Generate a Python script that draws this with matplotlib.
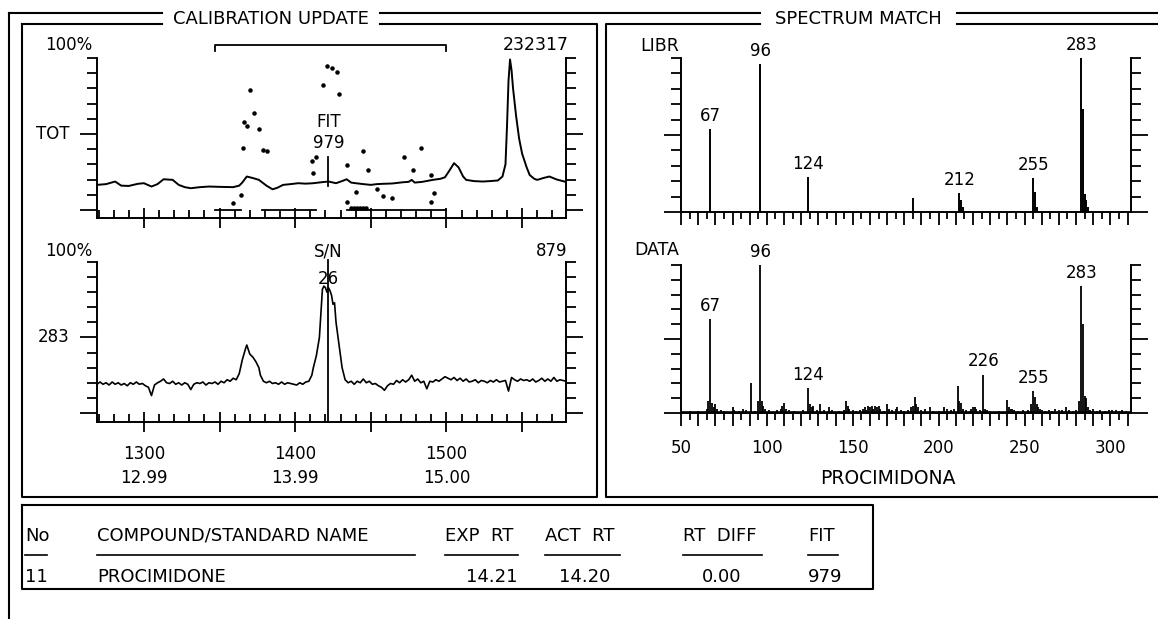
import matplotlib
matplotlib.use('Agg')
import matplotlib.pyplot as plt
from matplotlib.ticker import FixedLocator, MultipleLocator, FuncFormatter

W, H = 1158, 619
plt.rcParams['font.family'] = ['DejaVu Sans']

# --- TOT chromatogram (scan number, % of 232317) ---
tot_scan = [1269, 1275, 1281, 1285, 1290, 1296, 1300, 1305, 1309, 1313, 1319, 1323, 1327, 1331,
            1337, 1343, 1350, 1359, 1363, 1365, 1368, 1372, 1376, 1381, 1385, 1388, 1392, 1397,
            1402, 1407, 1412, 1417, 1422, 1427, 1431, 1434, 1437, 1440, 1445, 1450, 1454, 1458,
            1464, 1471, 1475, 1477, 1479, 1484, 1491, 1496, 1499, 1502, 1505, 1508, 1511, 1513,
            1518, 1524, 1529, 1534, 1537, 1539, 1540, 1541, 1542, 1543, 1544, 1546, 1548, 1550,
            1553, 1555, 1558, 1560, 1564, 1568, 1573, 1578]
tot_val = [16.5, 17, 18.7, 16, 15.8, 17.2, 17.6, 15.4, 17, 20.2, 19.8, 16.5, 15, 14.3,
           15, 15.4, 15.2, 15, 16, 18, 22, 21, 19.8, 16, 13.6, 14.5, 16.5, 17,
           17.6, 17.3, 17.6, 18.2, 18.7, 17.6, 19, 20.2, 18, 17.6, 17, 16.5, 17, 17.2,
           17.4, 18.2, 18.5, 19.8, 18, 18.5, 19.8, 20.5, 21.5, 26, 30.8, 28, 22, 19.8,
           19, 18.7, 19, 19.4, 22, 30, 55, 85, 99, 92, 80, 62, 47, 37,
           28, 23, 20.5, 19.8, 21, 22, 20, 18.7]

# calibration dots printed over the TOT trace
dot_scan = [1370, 1366, 1373, 1368, 1376, 1365.5, 1379, 1381.5, 1364, 1358.6, 1421, 1424, 1427.4,
            1418.5, 1428.7, 1411, 1414, 1412, 1434, 1445, 1448, 1440, 1454, 1458, 1464, 1434,
            1472, 1483, 1478, 1490, 1492, 1490, 1437, 1439, 1441, 1443, 1445, 1447]
dot_val = [79, 58, 64, 55, 53, 40.7, 39.5, 39, 10, 4.4, 94.5, 93.4, 91,
           82, 76, 32, 35, 24, 29.7, 38.5, 26, 12, 14, 9, 7.7, 5.5,
           35, 40.7, 26, 23, 11, 5.5, 1, 1, 1, 1, 1, 1]
seg_start = [1347, 1378, 1434]
seg_end = [1364, 1414, 1500]

# --- mass 283 chromatogram (scan number, % of 879) ---
m283_scan = [1269, 1271, 1273, 1275, 1277, 1279, 1281, 1283, 1285, 1287, 1289, 1291, 1293, 1295,
             1297, 1299, 1301, 1303, 1305, 1307, 1309, 1311, 1313, 1315, 1317, 1319, 1321, 1323,
             1325, 1327, 1329, 1331, 1333, 1335, 1337, 1339, 1341, 1343, 1345, 1347, 1349, 1351,
             1353, 1355, 1357, 1359, 1361, 1363, 1365, 1367, 1368, 1370, 1372, 1374, 1376, 1377,
             1379, 1381, 1383, 1385, 1387, 1389, 1391, 1393, 1395, 1397, 1399, 1401, 1403, 1405,
             1407, 1409, 1411, 1412, 1414, 1416, 1418, 1419, 1420, 1421, 1422, 1423, 1424, 1425,
             1426, 1427, 1429, 1431, 1433, 1435, 1437, 1439, 1441, 1443, 1445, 1447, 1449, 1451,
             1453, 1455, 1457, 1459, 1461, 1463, 1465, 1467, 1469, 1471, 1473, 1475, 1477, 1479,
             1481, 1483, 1485, 1487, 1489, 1491, 1493, 1495, 1497, 1499, 1501, 1503, 1505, 1507,
             1509, 1511, 1513, 1515, 1517, 1519, 1521, 1523, 1525, 1527, 1529, 1531, 1533, 1535,
             1537, 1539, 1541, 1543, 1545, 1547, 1549, 1551, 1553, 1555, 1557, 1559, 1561, 1563,
             1565, 1567, 1569, 1571, 1573, 1575, 1577, 1579]
m283_val = [19, 20.5, 19, 20, 18.5, 20.5, 19, 20, 18.5, 19.5, 18, 20, 19, 20.5,
            19, 19.5, 18, 17, 11.5, 18.5, 20, 21, 22.5, 20, 19.5, 21, 19, 20,
            18.5, 20, 19, 15.5, 19, 20, 19.5, 20.5, 18.5, 20, 19.5, 20.5, 19, 21,
            20, 22, 21, 23, 22, 26, 35, 42, 45, 39, 37, 34, 30, 25,
            21, 20, 21, 19.5, 20, 19, 20.5, 19, 20, 19.5, 19, 18.5, 20, 19,
            20.5, 21, 25, 30, 38, 50, 82, 84, 83, 80, 83, 81, 78, 72,
            73, 60, 45, 30, 22, 20, 21, 19, 21, 20, 22.5, 20, 21, 19,
            19.5, 18, 17, 15, 18, 19.5, 19, 21.5, 20, 22, 20.5, 22, 25, 21,
            22.5, 20, 21, 16, 21, 20.5, 22, 21, 22.5, 24, 23, 22, 23.5, 21.5,
            23, 21, 22.5, 20.5, 21, 22, 20, 21.5, 21, 20, 21.5, 20.5, 22, 20.5,
            21, 21.5, 14.5, 23.5, 22, 21, 22.5, 21.5, 22, 21, 22.5, 20.5, 21.5, 23,
            21, 22.5, 21, 23.5, 21, 22, 21.5, 21]

# --- library spectrum ---
libr_mz = [67, 96, 124, 185, 212, 213, 214, 255, 256, 257, 283, 284, 285, 286, 287]
libr_int = [54, 96, 22.5, 9, 12.5, 8, 3, 22, 13, 3, 100, 67, 12, 8, 3]
libr_labels = [67, 96, 124, 212, 255, 283]

# --- measured spectrum ---
data_mz = [52, 55, 57, 60, 63, 65, 66, 67, 68, 69, 70, 71, 73, 75, 77, 80, 81, 84, 86, 88,
           91, 93, 95, 96, 97, 98, 99, 101, 103, 106, 108, 109, 110, 111, 113, 116, 118, 121,
           124, 125, 126, 127, 129, 131, 133, 136, 138, 140, 142, 145, 146, 147, 148, 150, 152,
           154, 156, 157, 158, 159, 160, 161, 162, 163, 164, 165, 166, 168, 170, 171, 173, 175,
           176, 178, 180, 182, 184, 185, 186, 187, 188, 190, 192, 195, 197, 200, 203, 205, 207,
           209, 211, 212, 213, 214, 216, 218, 219, 220, 221, 222, 224, 226, 227, 228, 230, 232,
           235, 238, 240, 241, 242, 243, 244, 246, 249, 252, 254, 255, 256, 257, 258, 259, 260,
           262, 264, 266, 268, 270, 272, 274, 276, 278, 280, 282, 283, 284, 285, 286, 287, 288,
           290, 292, 294, 297, 299, 301, 303, 305, 307, 309]
data_int = [1, 1.5, 1, 1.5, 1, 3, 8, 63.5, 7, 4, 6, 3, 2, 1.5, 1, 4, 2, 1.5, 3, 2,
            20, 1.5, 8, 100, 8, 5, 3, 2, 1, 2, 3, 5, 7, 3, 2, 1.5, 1, 2,
            17, 6, 4, 5, 2, 6, 2, 4, 2, 1, 1.5, 2, 8, 5, 3, 2, 1.5,
            2, 3, 4, 2, 5, 4, 5, 3, 5, 4, 5, 3, 1.5, 6, 3, 2, 3,
            4, 2, 1.5, 2, 4, 5, 11, 6, 4, 2, 3, 4, 1.5, 1.5, 4, 3, 2,
            3, 18, 8, 7, 3, 2, 1.5, 3, 4, 4, 3, 2, 26, 3, 2, 1.5, 1,
            1.5, 1, 9, 4, 3, 3, 2, 1.5, 2, 2, 6, 15, 11, 6, 4, 3, 2,
            1.5, 2, 1.5, 3, 2, 2, 4, 2, 1.5, 2, 8, 86, 60, 11.5, 10, 4, 2,
            3, 1.5, 2, 1.5, 2, 2, 2, 1.5, 2, 1.5]
data_labels = [67, 96, 124, 226, 255, 283]

# --- result table ---
tab_headers = ['No', 'COMPOUND/STANDARD NAME', 'EXP  RT', 'ACT  RT', 'RT  DIFF', 'FIT']
tab_row = ['11', 'PROCIMIDONE', '14.21', '14.20', '0.00', '979']


def box(l, t, r, b):
    return [l / W, 1 - b / H, (r - l) / W, (b - t) / H]


def style_axes(ax, ymin):
    ax.set_facecolor('none')
    ax.spines['top'].set_visible(False)
    for s in ['left', 'right', 'bottom']:
        ax.spines[s].set_linewidth(1.4)
    ax.set_ylim(ymin, 100)
    ax.yaxis.set_major_locator(FixedLocator([0, 50]))
    ax.yaxis.set_minor_locator(FixedLocator([10, 20, 30, 40, 60, 70, 80, 90, 100]))
    ax.tick_params(axis='y', which='both', left=True, right=True, labelleft=False,
                   direction='out', width=1.3)
    ax.tick_params(axis='y', which='major', length=12)
    ax.tick_params(axis='y', which='minor', length=7)


def chrom_axes(ax):
    style_axes(ax, ax.get_ylim()[0])
    ax.set_xlim(1269, 1579)
    ax.xaxis.set_major_locator(MultipleLocator(50))
    ax.xaxis.set_minor_locator(MultipleLocator(10))
    ax.tick_params(axis='x', which='minor', direction='in', length=6, width=1.3)
    ax.tick_params(axis='x', which='major', direction='inout', length=15, width=1.3)


def spec_axes(ax):
    style_axes(ax, 0)
    ax.set_xlim(50, 312)
    ax.xaxis.set_major_locator(MultipleLocator(10))
    ax.xaxis.set_minor_locator(MultipleLocator(5))
    ax.tick_params(axis='x', which='major', direction='out', length=9, width=1.3)
    ax.tick_params(axis='x', which='minor', direction='out', length=5, width=1.3)


fig = plt.figure(figsize=(W / 100, H / 100), dpi=100)

# frame, panel boxes and titles drawn in pixel coordinates
frame = fig.add_axes([0, 0, 1, 1])
frame.set_xlim(0, W)
frame.set_ylim(H, 0)
frame.axis('off')
lw = 1.5
frame.plot([9, 9], [13, 619], 'k', lw=lw)
frame.plot([9, 162], [13, 13], 'k', lw=lw)
frame.plot([380, 760], [13, 13], 'k', lw=lw)
frame.plot([957, W], [13, 13], 'k', lw=lw)
frame.plot([22, 162], [24, 24], 'k', lw=lw)
frame.plot([380, 597, 597, 22, 22], [24, 24, 497, 497, 24], 'k', lw=lw)
frame.plot([760, 606, 606, W], [24, 24, 497, 497], 'k', lw=lw)
frame.plot([957, W], [24, 24], 'k', lw=lw)
frame.plot([22, 873, 873, 22, 22], [505, 505, 589, 589, 505], 'k', lw=lw)
frame.text(271, 19, 'CALIBRATION UPDATE', fontsize=13, ha='center', va='center')
frame.text(858, 19, 'SPECTRUM MATCH', fontsize=13, ha='center', va='center')

# table
col_x = [25, 97, 445, 545, 683, 808]
col_end = [47, 415, 518, 620, 762, 838]
for x0, x1, h in zip(col_x, col_end, tab_headers):
    frame.text(x0, 536, h, fontsize=13, ha='left', va='center')
    frame.plot([x0, x1], [555, 555], 'k', lw=1.2)
row_align = ['right', 'left', 'right', 'right', 'right', 'left']
row_x = [48, 97, 517, 610, 741, 808]
for x0, al, v in zip(row_x, row_align, tab_row):
    frame.text(x0, 577, v, fontsize=13, ha=al, va='center')

# TOT chromatogram
ax1 = fig.add_axes(box(97, 58, 566, 218))
ax1.set_ylim(-5.3, 100)
chrom_axes(ax1)
ax1.tick_params(axis='x', labelbottom=False)
ax1.plot(tot_scan, tot_val, color='k', lw=1.4)
ax1.scatter(dot_scan, dot_val, s=5, color='k', clip_on=False)
for a, b in zip(seg_start, seg_end):
    ax1.plot([a, b], [0, 0], color='k', lw=1.3)
ax1.plot([1347, 1347, 1500, 1500], [104.5, 108.5, 108.5, 104.5], color='k', lw=1.3, clip_on=False)
ax1.plot([1422, 1422], [16, 35], color='k', lw=1.3)
ax1.text(1422, 58, 'FIT', fontsize=12, ha='center', va='center')
ax1.text(1422, 44, '979', fontsize=12, ha='center', va='center')
ax1.text(-0.01, 108.5, '100%', transform=ax1.get_yaxis_transform(), fontsize=12,
         ha='right', va='center')
ax1.text(-0.058, 50, 'TOT', transform=ax1.get_yaxis_transform(), fontsize=12,
         ha='right', va='center')
ax1.text(1.006, 108.5, '232317', transform=ax1.get_yaxis_transform(), fontsize=12.5,
         ha='right', va='center')

# mass 283 chromatogram
ax2 = fig.add_axes(box(97, 262, 566, 422))
ax2.set_ylim(-6, 100)
chrom_axes(ax2)
ax2.plot(m283_scan, m283_val, color='k', lw=1.2)
ax2.plot([1422, 1422], [-6, 101], color='k', lw=1.3, clip_on=False)
ax2.xaxis.set_major_locator(FixedLocator([1300, 1350, 1400, 1450, 1500, 1550]))
ax2.set_xticklabels(['1300\n12.99', '', '1400\n13.99', '', '1500\n15.00', ''])
ax2.tick_params(axis='x', labelsize=12, pad=9)
for t in ax2.get_xticklabels():
    t.set_linespacing(1.45)
ax2.text(1422, 107, 'S/N', fontsize=12, ha='center', va='center')
ax2.text(1422, 89, '26', fontsize=12, ha='center', va='center')
ax2.text(-0.01, 107, '100%', transform=ax2.get_yaxis_transform(), fontsize=12,
         ha='right', va='center')
ax2.text(-0.058, 50, '283', transform=ax2.get_yaxis_transform(), fontsize=12,
         ha='right', va='center')
ax2.text(1.002, 107, '879', transform=ax2.get_yaxis_transform(), fontsize=12,
         ha='right', va='center')

# library spectrum
ax3 = fig.add_axes(box(681, 58, 1131, 212))
spec_axes(ax3)
ax3.tick_params(axis='x', labelbottom=False)
ax3.vlines(libr_mz, 0, libr_int, color='k', lw=1.4)
for m in libr_labels:
    ax3.annotate(str(m), (m, libr_int[libr_mz.index(m)]), xytext=(0, 3),
                 textcoords='offset points', ha='center', va='bottom', fontsize=12,
                 annotation_clip=False)
ax3.text(-0.004, 108, 'LIBR', transform=ax3.get_yaxis_transform(), fontsize=12.5,
         ha='right', va='center')

# measured spectrum
ax4 = fig.add_axes(box(681, 265, 1131, 413))
spec_axes(ax4)
ax4.vlines(data_mz, 0, data_int, color='k', lw=1.3)
ax4.plot([50, 312], [0.6, 0.6], color='k', lw=1.2)
for m in data_labels:
    ax4.annotate(str(m), (m, data_int[data_mz.index(m)]), xytext=(0, 3),
                 textcoords='offset points', ha='center', va='bottom', fontsize=12,
                 annotation_clip=False)
ax4.xaxis.set_major_formatter(FuncFormatter(
    lambda v, p: str(int(round(v))) if round(v) % 50 == 0 else ''))
ax4.tick_params(axis='x', labelsize=12, pad=10)
ax4.text(0.46, -0.44, 'PROCIMIDONA', transform=ax4.transAxes, fontsize=13.5,
         ha='center', va='center')
ax4.text(-0.004, 110, 'DATA', transform=ax4.get_yaxis_transform(), fontsize=12.5,
         ha='right', va='center')

fig.savefig('out.png', dpi=100)
